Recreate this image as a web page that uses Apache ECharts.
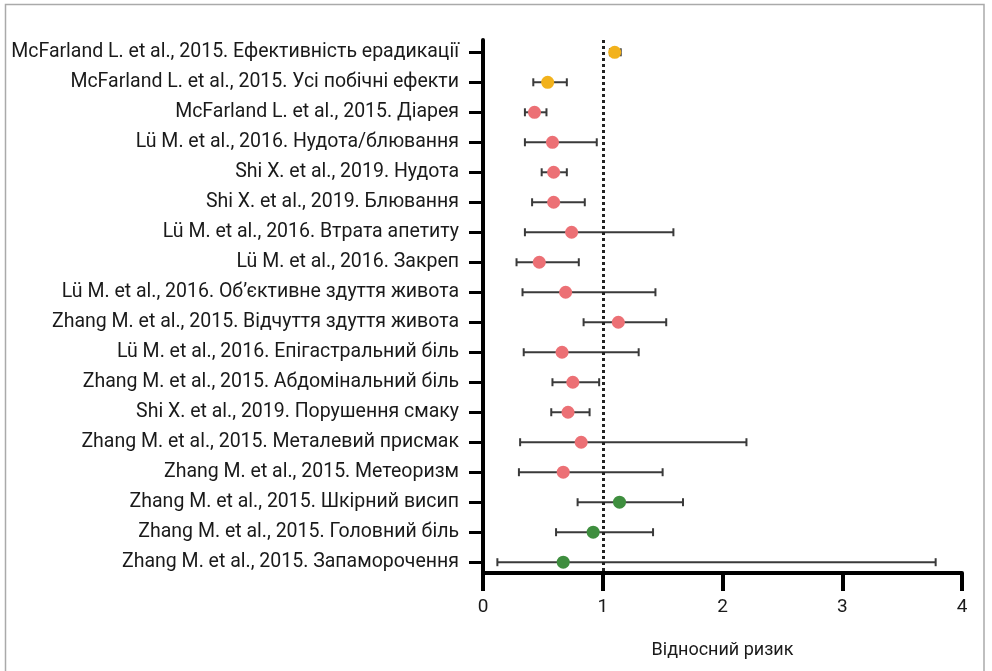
<!DOCTYPE html>
<html>
<head>
<meta charset="utf-8">
<script src="https://cdn.jsdelivr.net/npm/echarts@6/dist/echarts.min.js"></script>
<style>
  html, body { margin: 0; padding: 0; background: #fff; }
  #chart { width: 992px; height: 671px; }
</style>
</head>
<body>
<div id="chart"></div>
<script>
// назви досліджень / ефектів
const categories = [
  'McFarland L. et al., 2015. Ефективність ерадикації',
  'McFarland L. et al., 2015. Усі побічні ефекти',
  'McFarland L. et al., 2015. Діарея',
  'Lü M. et al., 2016. Нудота/блювання',
  'Shi X. et al., 2019. Нудота',
  'Shi X. et al., 2019. Блювання',
  'Lü M. et al., 2016. Втрата апетиту',
  'Lü M. et al., 2016. Закреп',
  'Lü M. et al., 2016. Об’єктивне здуття живота',
  'Zhang M. et al., 2015. Відчуття здуття живота',
  'Lü M. et al., 2016. Епігастральний біль',
  'Zhang M. et al., 2015. Абдомінальний біль',
  'Shi X. et al., 2019. Порушення смаку',
  'Zhang M. et al., 2015. Металевий присмак',
  'Zhang M. et al., 2015. Метеоризм',
  'Zhang M. et al., 2015. Шкірний висип',
  'Zhang M. et al., 2015. Головний біль',
  'Zhang M. et al., 2015. Запаморочення'
]
const riskValues = [1.10, 0.54, 0.43, 0.58, 0.59, 0.59, 0.74, 0.47, 0.69, 1.13, 0.66, 0.75, 0.71, 0.82, 0.67, 1.14, 0.92, 0.67]
const lowerValues = [1.06, 0.42, 0.35, 0.35, 0.49, 0.41, 0.35, 0.28, 0.33, 0.84, 0.34, 0.58, 0.57, 0.31, 0.30, 0.79, 0.61, 0.12]
const upperValues = [1.15, 0.70, 0.53, 0.95, 0.70, 0.85, 1.59, 0.80, 1.44, 1.53, 1.30, 0.97, 0.89, 2.20, 1.50, 1.67, 1.42, 3.78]
// 0 - жовтий, 1 - рожевий, 2 - зелений
const groupOf = [0, 0, 1, 1, 1, 1, 1, 1, 1, 1, 1, 1, 1, 1, 1, 2, 2, 2]
const xTicks = [0, 1, 2, 3, 4]
const refLine = 1

const groupColors = ['#f2b21c', '#ec7075', '#3e8e3e']
const rowIdx = categories.map((c, i) => i)

const chart = echarts.init(document.getElementById('chart'))

const barData = rowIdx.map(i => [lowerValues[i], upperValues[i], i])
const pointSeries = groupColors.map((color, g) => ({
  type: 'scatter',
  symbol: 'circle',
  symbolSize: 13,
  itemStyle: { color: color, opacity: 1 },
  z: 5,
  data: rowIdx.filter(i => groupOf[i] === g).map(i => [riskValues[i], i])
}))

const option = {
  animation: false,
  textStyle: { fontFamily: 'Roboto' },
  graphic: [{
    type: 'rect',
    shape: { x: 5.5, y: 4.5, width: 978.5, height: 700 },
    style: { fill: 'none', stroke: '#aaaaaa', lineWidth: 1.5 },
    silent: true
  }],
  grid: { left: 483, right: 30, top: 40, bottom: 98 },
  xAxis: {
    type: 'value',
    min: 0,
    max: 4,
    interval: 1,
    name: 'Відносний ризик',
    nameLocation: 'middle',
    nameGap: 68,
    nameTextStyle: { fontSize: 18, color: '#1a1a1a' },
    axisLine: { show: true, onZero: false, lineStyle: { color: '#000', width: 4 } },
    axisTick: { show: true, length: 18, lineStyle: { color: '#000', width: 4 } },
    axisLabel: { fontSize: 19, color: '#1a1a1a', margin: 25, customValues: xTicks },
    splitLine: { show: false }
  },
  yAxis: {
    type: 'value',
    inverse: true,
    min: -0.41,
    max: 17.36,
    axisLine: { show: true, onZero: false, lineStyle: { color: '#000', width: 4 } },
    axisTick: { show: true, length: 14, customValues: rowIdx, lineStyle: { color: '#000', width: 3 } },
    axisLabel: {
      fontSize: 19.5,
      color: '#1a1a1a',
      margin: 24,
      customValues: rowIdx,
      formatter: v => categories[Math.round(v)]
    },
    splitLine: { show: false }
  },
  series: [
    {
      type: 'custom',
      z: 3,
      encode: { x: [0, 1], y: 2 },
      data: barData,
      renderItem: (params, api) => {
        const lo = api.coord([api.value(0), api.value(2)])
        const hi = api.coord([api.value(1), api.value(2)])
        const cap = 4
        const style = { stroke: '#3a3a3a', lineWidth: 2 }
        return {
          type: 'group',
          children: [
            { type: 'line', shape: { x1: lo[0], y1: lo[1], x2: hi[0], y2: hi[1] }, style },
            { type: 'line', shape: { x1: lo[0], y1: lo[1] - cap, x2: lo[0], y2: lo[1] + cap }, style },
            { type: 'line', shape: { x1: hi[0], y1: hi[1] - cap, x2: hi[0], y2: hi[1] + cap }, style }
          ]
        }
      }
    },
    {
      type: 'line',
      data: [],
      markLine: {
        silent: true,
        symbol: 'none',
        label: { show: false },
        lineStyle: { color: '#222', type: [3, 3], width: 3 },
        data: [{ xAxis: refLine }]
      }
    },
    ...pointSeries
  ]
}

chart.setOption(option)
</script>
</body>
</html>
